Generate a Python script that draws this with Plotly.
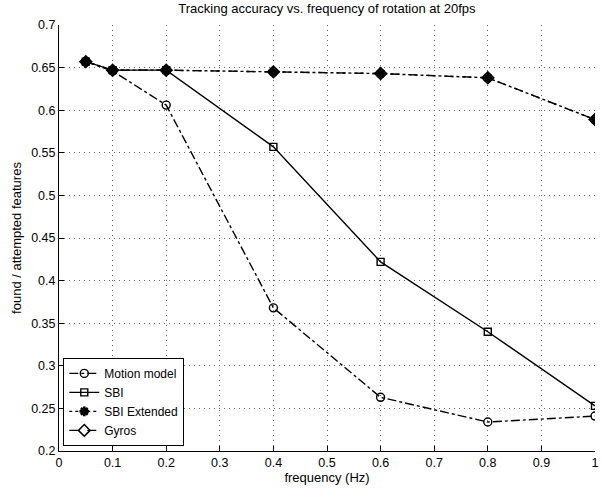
import plotly.graph_objects as go

freq = [0.05, 0.1, 0.2, 0.4, 0.6, 0.8, 1.0]
motion_model = [0.657, 0.646, 0.606, 0.368, 0.263, 0.234, 0.241]
sbi = [0.657, 0.647, 0.647, 0.557, 0.422, 0.340, 0.253]
sbi_extended = [0.657, 0.647, 0.647, 0.645, 0.643, 0.638, 0.589]
gyros = [0.657, 0.647, 0.647, 0.645, 0.643, 0.638, 0.589]

x_ticks = [0, 0.1, 0.2, 0.3, 0.4, 0.5, 0.6, 0.7, 0.8, 0.9, 1]
x_tick_labels = ["0", "0.1", "0.2", "0.3", "0.4", "0.5", "0.6", "0.7", "0.8", "0.9", "1"]
y_ticks = [0.2, 0.25, 0.3, 0.35, 0.4, 0.45, 0.5, 0.55, 0.6, 0.65, 0.7]
y_tick_labels = ["0.2", "0.25", "0.3", "0.35", "0.4", "0.45", "0.5", "0.55", "0.6", "0.65", "0.7"]

FONT = "Liberation Sans, Arial, sans-serif"

fig = go.Figure()
fig.add_trace(go.Scatter(x=freq, y=motion_model, name="Motion model", mode="lines+markers",
                         line=dict(color="black", width=1.4, dash="dashdot"),
                         marker=dict(symbol="circle-open", size=8, color="black", line=dict(width=1.4))))
fig.add_trace(go.Scatter(x=freq, y=sbi, name="SBI", mode="lines+markers",
                         line=dict(color="black", width=1.4),
                         marker=dict(symbol="square-open", size=7, color="black", line=dict(width=1.4))))
fig.add_trace(go.Scatter(x=freq, y=sbi_extended, name="SBI Extended", mode="lines+markers",
                         line=dict(color="black", width=1.4, dash="dot"),
                         marker=dict(symbol="asterisk-open", size=8, color="black", line=dict(width=2.6))))
fig.add_trace(go.Scatter(x=freq, y=gyros, name="Gyros", mode="lines+markers",
                         line=dict(color="black", width=1.4, dash="dash"),
                         marker=dict(symbol="diamond-open", size=9, color="black", line=dict(width=1.6))))

axis_common = dict(
    showline=True, linecolor="black", linewidth=1,
    ticks="inside", ticklen=5, tickcolor="black", tickwidth=1,
    showgrid=True, gridcolor="#666", gridwidth=1, griddash="1px,4px",
    zeroline=False, tickfont=dict(family=FONT, size=12.5, color="black"),
    mirror=False,
)

fig.update_layout(
    width=611, height=495,
    margin=dict(l=59, r=12, t=25, b=44),
    paper_bgcolor="white", plot_bgcolor="white",
    font=dict(family=FONT, size=12.5, color="black"),
    title=dict(text="Tracking accuracy vs. frequency of rotation at 20fps",
               x=0.535, xanchor="center", y=0.992, yanchor="top",
               font=dict(family=FONT, size=13, color="black")),
    xaxis=dict(range=[0, 1], tickvals=x_ticks, ticktext=x_tick_labels,
               title=dict(text="frequency (Hz)", standoff=3,
                          font=dict(family=FONT, size=13, color="black")),
               **axis_common),
    yaxis=dict(range=[0.2, 0.7], tickvals=y_ticks, ticktext=y_tick_labels,
               title=dict(text="found / attempted features", standoff=6,
                          font=dict(family=FONT, size=13, color="black")),
               **axis_common),
    legend=dict(x=0.008, y=0.012, xanchor="left", yanchor="bottom",
                bgcolor="white", bordercolor="black", borderwidth=1,
                font=dict(family=FONT, size=12, color="black"),
                tracegroupgap=0, itemwidth=30),
    showlegend=True,
)

fig.write_html("out.html")
